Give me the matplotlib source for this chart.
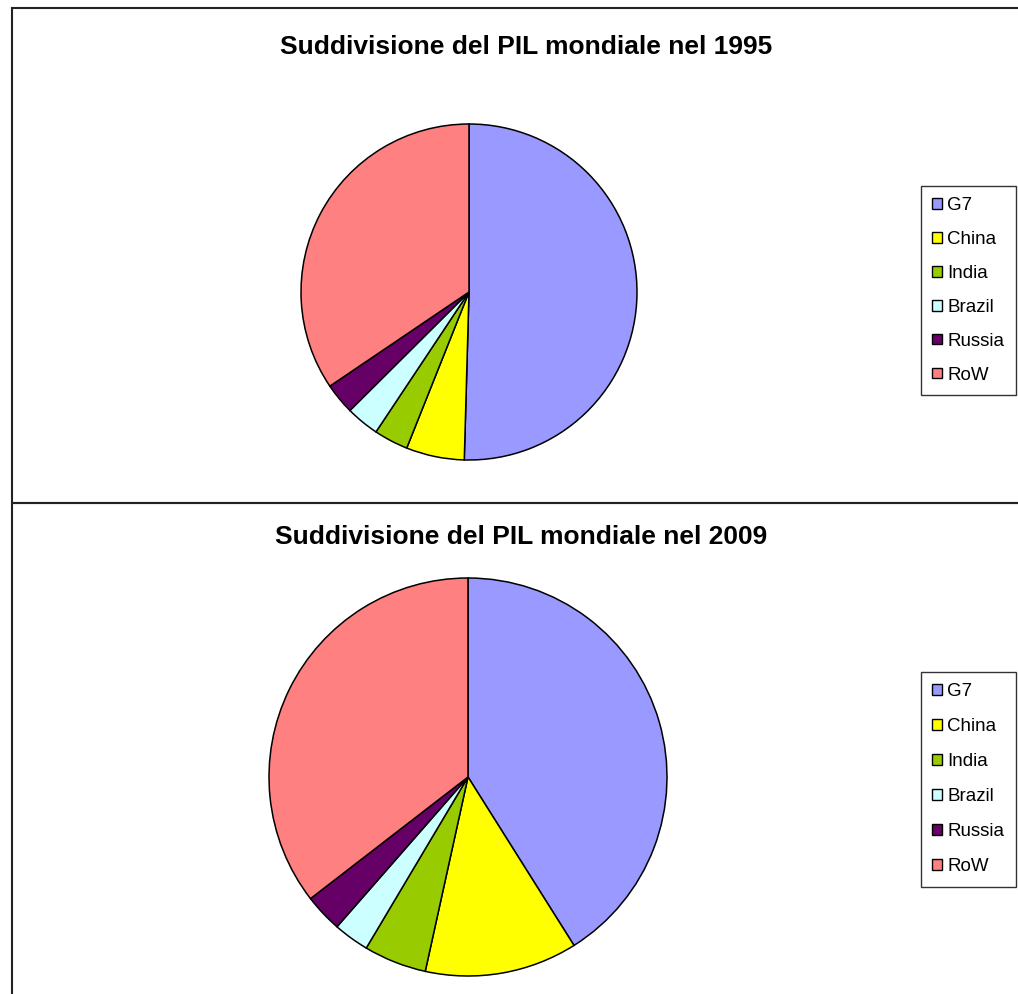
import matplotlib
matplotlib.use("Agg")
import matplotlib.pyplot as plt
from matplotlib.patches import Patch, Rectangle

plt.rcParams["font.family"] = ["Liberation Sans", "DejaVu Sans"]

labels = ["G7", "China", "India", "Brazil", "Russia", "RoW"]
colors = ["#9999FF", "#FFFF00", "#99CC00", "#CCFFFF", "#660066", "#FF8080"]
share_1995 = [50.5, 5.6, 3.3, 3.2, 3.0, 34.5]
share_2009 = [41.1, 12.4, 5.1, 2.9, 3.1, 35.5]
years = ["1995", "2009"]

W, H = 1018, 994
fig = plt.figure(figsize=(W / 100, H / 100), dpi=100)


def px(x, y):
    # pixel coords (top-left origin) -> figure fraction
    return x / W, 1 - y / H


# panel frames (top: y 8..503, bottom: 503..beyond)
for top, bottom in [(8, 503), (503, 1010)]:
    x0, y0 = px(12, bottom)
    rect = Rectangle((x0, y0), 1.2, (bottom - top) / H, transform=fig.transFigure,
                     fill=False, edgecolor="#222222", linewidth=1.5, clip_on=False)
    fig.add_artist(rect)

panels = [
    # center x, center y, radius, title x, title y, legend top y, row spacing
    (469, 292, 168, 526, 47, 186, 0.9, share_1995),
    (468, 777, 199, 521, 537, 672, 0.96, share_2009),
]

handles = [Patch(facecolor=c, edgecolor="black", linewidth=1.0) for c in colors]

for (cx, cy, r, tx, ty, ly, spacing, vals), year in zip(panels, years):
    left, bot = px(cx - r, cy + r)
    ax = fig.add_axes([left, bot, 2 * r / W, 2 * r / H])
    ax.pie(vals, colors=colors, startangle=90, counterclock=False,
           wedgeprops=dict(edgecolor="black", linewidth=1.1))
    ax.set_xlim(-1, 1)
    ax.set_ylim(-1, 1)
    ax.set_aspect("auto")

    fx, fy = px(tx, ty)
    fig.text(fx, fy, f"Suddivisione del PIL mondiale nel {year}", ha="center",
             va="center", fontsize=19, fontweight="bold")

    lx, lyf = px(921, ly)
    leg = fig.legend(handles, labels, loc="upper left", bbox_to_anchor=(lx, lyf),
                     bbox_transform=fig.transFigure, fontsize=13.5,
                     frameon=True, fancybox=False, borderpad=0.6,
                     labelspacing=spacing, handlelength=0.5, handleheight=0.5,
                     handletextpad=0.3, borderaxespad=0)
    leg.get_frame().set_edgecolor("black")
    leg.get_frame().set_linewidth(1.0)

fig.savefig("out.png", dpi=100)
